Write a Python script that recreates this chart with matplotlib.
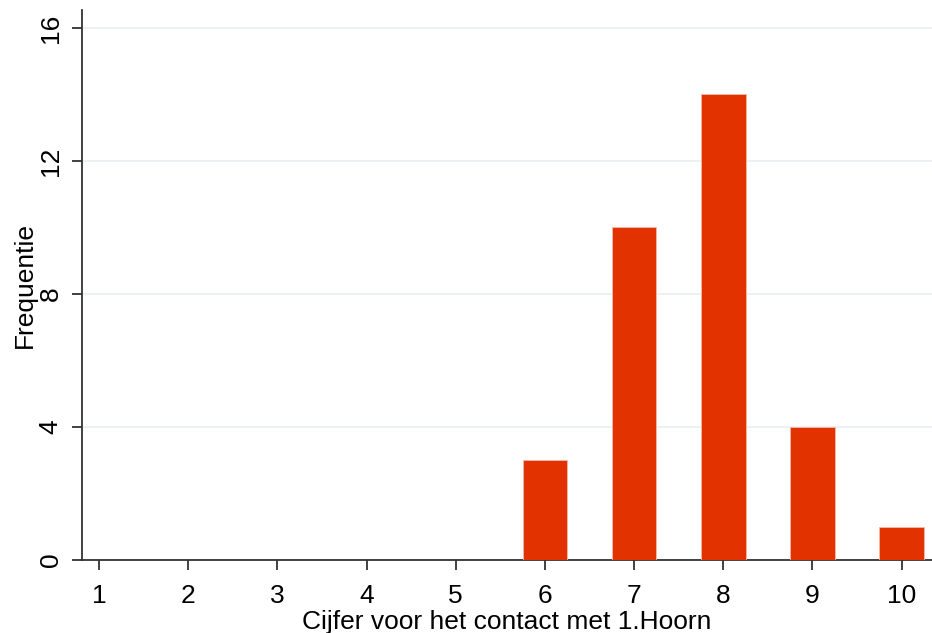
import matplotlib
matplotlib.use("Agg")
import matplotlib.pyplot as plt

plt.rcParams['font.family'] = ['Liberation Sans', 'DejaVu Sans']

# ===================== 数据 =====================
cijfers = [6, 7, 8, 9, 10]
frequentie = [3, 10, 14, 4, 1]
x_ticks = list(range(1, 11))
y_ticks = [0, 4, 8, 12, 16]

BAR_COLOR = '#E13200'
GRID_COLOR = '#E8F0F2'
AX_COLOR = '#333333'

fig = plt.figure(figsize=(9.32, 6.33), dpi=100)
ax = fig.add_axes([82/932, 73/633, 850/932, 550/633])

ax.bar(cijfers, frequentie, width=0.5, color=BAR_COLOR,
       edgecolor='#F7B9A6', linewidth=0.6, zorder=3)

ax.set_xlim(0.81, 10.34)
ax.set_ylim(0, 16.54)
ax.set_xticks(x_ticks)
ax.set_yticks(y_ticks)
ax.yaxis.grid(True, color=GRID_COLOR, linewidth=1.2, zorder=0)
ax.set_axisbelow(True)

for s in ['top', 'right']:
    ax.spines[s].set_visible(False)
for s in ['left', 'bottom']:
    ax.spines[s].set_color(AX_COLOR)
    ax.spines[s].set_linewidth(1.3)

ax.tick_params(axis='both', direction='out', length=7, width=1.3,
               color=AX_COLOR, labelsize=19, pad=7)
ax.tick_params(axis='x', pad=10)
for lab in ax.get_yticklabels():
    lab.set_rotation(90)
    lab.set_va('center')

ax.set_xlabel('Cijfer voor het contact met 1.Hoorn', fontsize=19, labelpad=2)
ax.set_ylabel('Frequentie', fontsize=19, labelpad=1)

fig.savefig('out.png', dpi=100)
